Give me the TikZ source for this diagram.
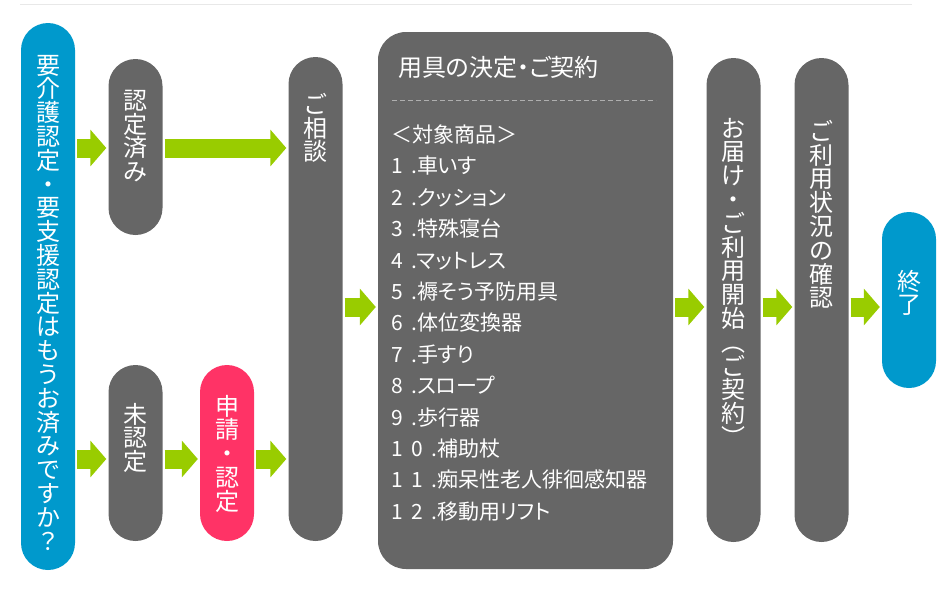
\documentclass[tikz,border=0pt]{standalone}
\usepackage{fontspec}
\usetikzlibrary{arrows.meta,positioning}
\newfontfamily\jpfont{Noto Sans CJK JP}
\newfontfamily\listfont{Noto Sans CJK JP}[RawFeature=+palt]
\newfontfamily\numfont{Noto Sans CJK JP}[LetterSpace=40]
\definecolor{cgray}{RGB}{102,102,102}
\definecolor{cblue}{RGB}{0,153,204}
\definecolor{cpink}{RGB}{255,51,102}
\definecolor{cgreen}{RGB}{153,204,0}
\definecolor{cline}{RGB}{232,232,232}
\definecolor{cdash}{RGB}{175,175,175}
\newcommand{\vfont}{\jpfont\fontsize{24}{23.8}\selectfont\lineskiplimit=-30pt\relax}
\newcommand{\lfont}{\listfont\fontsize{21}{31.4}\selectfont\lineskiplimit=-30pt\relax}
\newcommand{\itm}[2]{{\numfont #1.}#2}
\tikzset{
  pill/.style={rectangle, rounded corners=27pt, minimum width=54pt, inner sep=0pt},
  graybox/.style={pill, fill=cgray},
  vtxt/.style={text=white, align=center, inner sep=0pt, font=\vfont},
  garrow/.style={draw=cgreen, line width=19pt, -{Triangle[length=16pt,width=36pt]},
    shorten <=2pt, shorten >=2pt},
}
\begin{document}
\begin{tikzpicture}[x=1pt,y=-1pt]
  \useasboundingbox (0,0) rectangle (940,600);
  \draw[cline] (20,4) -- (912,4);
  % boxes
  \node[pill, fill=cblue, minimum height=547pt] (ask) at (48,296.5) {};
  \node[graybox, minimum height=176pt] (done) at (135.5,147) {};
  \node[graybox, minimum height=176pt] (mi) at (135.5,453) {};
  \node[pill, fill=cpink, minimum height=176pt] (shinsei) at (227,453) {};
  \node[graybox, minimum height=484pt] (soudan) at (315.5,299) {};
  \node[graybox, rounded corners=28pt, minimum width=295pt, minimum height=537pt] (kettei) at (525.5,300.5) {};
  \node[graybox, minimum height=484pt] (todoke) at (733.5,300) {};
  \node[graybox, minimum height=484pt] (kakunin) at (821.5,300) {};
  \node[pill, fill=cblue, minimum height=176pt] (fin) at (909,300) {};
  % vertical labels
  \node[vtxt, below=32pt of ask.north] (askT)
    {要\\介\\護\\認\\定\\・\\要\\支\\援\\認\\定\\は\\も\\う\\お\\済\\み\\で\\す\\か\\？};
  \node[vtxt, below=31pt of done.north] (doneT) {認\\定\\済\\み};
  \node[vtxt, below=38pt of mi.north] (miT) {未\\認\\定};
  \node[vtxt, below=30pt of shinsei.north] (shinseiT) {申\\請\\・\\認\\定};
  \node[vtxt, below=36pt of soudan.north] (soudanT) {ご\\相\\談};
  \node[vtxt, below=60pt of todoke.north] (todokeT)
    {お\\届\\け\\・\\ご\\利\\用\\開\\始\\︵\\ご\\契\\約\\︶};
  \node[vtxt, below=62pt of kakunin.north] (kakuninT) {ご\\利\\用\\状\\況\\の\\確\\認};
  \node[vtxt, below=58pt of fin.north] (finT) {終\\了};
  % contents of the big box
  \node[anchor=west, text=white, inner sep=0pt, font=\listfont\fontsize{24}{24}\selectfont]
    (ketteiT) at (398,67) {用具の決定・ご契約};
  \draw[cdash, line width=1pt, dash pattern=on 5pt off 3pt] (392,100) -- (656,100);
  \node[anchor=north west, text=white, align=left, inner sep=0pt, font=\lfont] (items) at (391,124.5)
    {＜対象商品＞\\
     \itm{1}{車いす}\\
     \itm{2}{クッション}\\
     \itm{3}{特殊寝台}\\
     \itm{4}{マットレス}\\
     \itm{5}{褥そう予防用具}\\
     \itm{6}{体位変換器}\\
     \itm{7}{手すり}\\
     \itm{8}{スロープ}\\
     \itm{9}{歩行器}\\
     \itm{10}{補助杖}\\
     \itm{11}{痴呆性老人徘徊感知器}\\
     \itm{12}{移動用リフト}};
  % arrows
  \coordinate (rowA) at (0,148);
  \coordinate (rowB) at (0,459);
  \coordinate (rowC) at (0,307);
  \draw[garrow] (ask.east |- rowA) -- (done.west |- rowA);
  \draw[garrow] (done.east |- rowA) -- (soudan.west |- rowA);
  \draw[garrow] (ask.east |- rowB) -- (mi.west |- rowB);
  \draw[garrow] (mi.east |- rowB) -- (shinsei.west |- rowB);
  \draw[garrow] (shinsei.east |- rowB) -- (soudan.west |- rowB);
  \draw[garrow] (soudan.east |- rowC) -- (kettei.west |- rowC);
  \draw[garrow] (kettei.east |- rowC) -- (todoke.west |- rowC);
  \draw[garrow] (todoke.east |- rowC) -- (kakunin.west |- rowC);
  \draw[garrow] (kakunin.east |- rowC) -- (fin.west |- rowC);
\end{tikzpicture}
\end{document}
